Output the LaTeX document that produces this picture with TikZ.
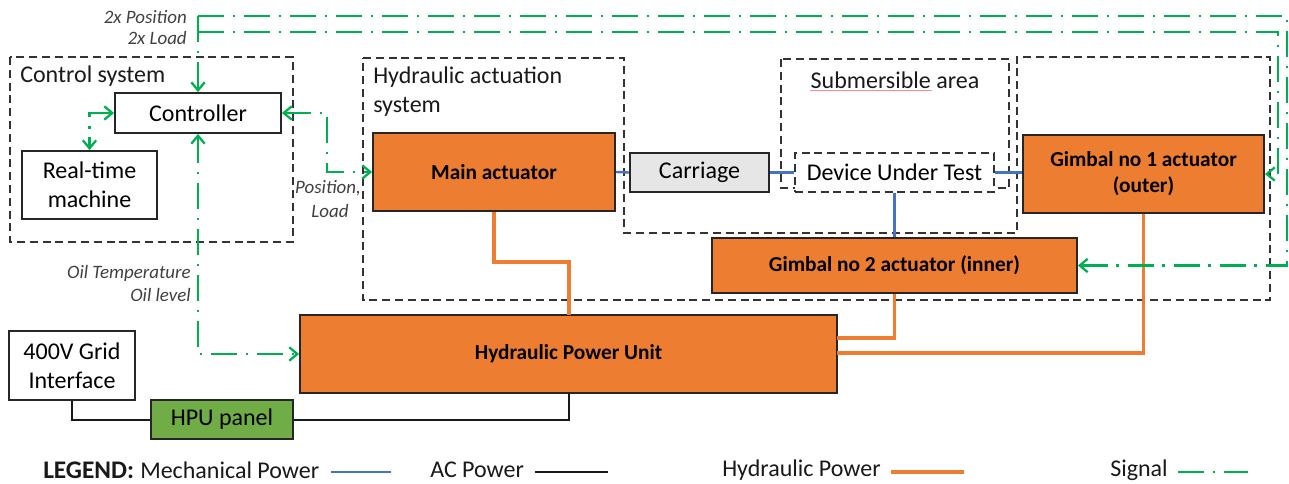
\documentclass[tikz,border=0pt]{standalone}
\usepackage{fontspec}
\setmainfont{Carlito}
\usetikzlibrary{arrows.meta}

\definecolor{hydc}{HTML}{ED7D31}
\definecolor{sigc}{HTML}{00B050}
\definecolor{mechc}{HTML}{4472C4}
\definecolor{panelc}{HTML}{70AD47}
\definecolor{carrc}{HTML}{E7E6E6}

\newcommand{\regfont}{\fontsize{18}{21.5}\selectfont}
\newcommand{\boldfont}{\fontsize{16}{19.5}\selectfont\bfseries}
\newcommand{\lblfont}{\fontsize{14.2}{17}\selectfont\itshape}
\newcommand{\legfont}{\fontsize{18}{21}\selectfont}

\tikzset{
  wh/.style args={#1/#2}{minimum width={#1*0.75pt}, minimum height={#2*0.75pt}},
  blk/.style={draw=black!85, line width=1.4pt, inner sep=0pt, align=center, font=\regfont},
  actbox/.style={blk, fill=hydc, font=\boldfont},
  grp/.style={draw=black!80, line width=1.4pt, dash pattern=on 6pt off 3.6pt},
  sigplain/.style={draw=sigc, line width=1.9pt, dash pattern=on 19.5pt off 6.5pt on 2pt off 6.5pt},
  sig/.style={sigplain, arrows={-Straight Barb[length=6pt,width=10pt,line width=1.7pt]}},
  sigboth/.style={sigplain, arrows={Straight Barb[length=6pt,width=10pt,line width=1.7pt]-Straight Barb[length=6pt,width=10pt,line width=1.7pt]}},
  hydr/.style={draw=hydc, line width=2.4pt},
  mech/.style={draw=mechc, line width=1.8pt},
  acp/.style={draw=black!90, line width=1.5pt},
  lbl/.style={font=\lblfont, text=black!75, inner sep=0pt},
  ttl/.style={font=\regfont, text=black!90, inner sep=0pt},
  legtext/.style={font=\legfont, text=black!90, inner sep=0pt, anchor=west},
}

\begin{document}
\begin{tikzpicture}[x=0.75pt,y=-0.75pt]
\useasboundingbox (0,0) rectangle (1289,483);

% group outlines
\draw[grp] (10,57) rectangle (293,242);
\draw[grp] (363,58) -- (624,58) -- (624,233) -- (1017,233) -- (1017,57)
  -- (1270,57) -- (1270,300) -- (363,300) -- cycle;
\draw[grp] (781,59) rectangle (1009,188);

\node[ttl, anchor=west] (cstitle) at (20,76) {Control system};
\node[ttl, anchor=north west, align=left] (hastitle) at (373,67) {Hydraulic actuation\\system};
\node[ttl] (subtitle) at (895,80) {Submersible area};
\draw[red!45, line width=0.6pt] (810,90) -- (932,90);

% blocks
\node[blk, fill=white, wh=166/40] (ctrl) at (198,113) {Controller};
\node[blk, fill=white, wh=135/68] (rtm) at (89.5,185) {Real-time\\machine};
\node[actbox, wh=242/78] (main) at (494,172) {Main actuator};
\node[blk, fill=carrc, wh=139/39] (carr) at (699.5,172.5) {Carriage};
\node[blk, grp, fill=white, wh=199/39] (dut) at (894.5,172.5) {Device Under Test};
\node[actbox, wh=241/78] (g1) at (1143.5,174) {Gimbal no 1 actuator\\(outer)};
\node[actbox, wh=365/55] (g2) at (894.5,265.5) {Gimbal no 2 actuator (inner)};
\node[actbox, wh=537/78] (hpu) at (568.5,354) {Hydraulic Power Unit};
\node[blk, fill=white, wh=126/69] (grid) at (72,365.5) {400V Grid\\Interface};
\node[blk, fill=panelc, wh=142/39] (panel) at (222,419.5) {HPU panel};

% mechanical power
\draw[mech] (main.east) -- (carr.west);
\draw[mech] (carr.east) -- (dut.west);
\draw[mech] (dut.east) -- (dut.east -| g1.west);
\draw[mech] (dut.south) -- (g2.north);

% hydraulic power
\coordinate (hpuA) at (569,315);
\coordinate (hpuB) at (837,338);
\coordinate (hpuC) at (837,353);
\draw[hydr] (main.south) -- (494,262) -- (569,262) -- (hpuA);
\draw[hydr] (g2.south) |- (hpuB);
\draw[hydr] (g1.south) |- (hpuC);

% AC power
\coordinate (hpuD) at (569,393);
\draw[acp] (grid.south) |- (panel.west);
\draw[acp] (panel.east) -| (hpuD);

% signals
\coordinate (sigA) at (198,16);
\coordinate (sigB) at (198,32);
\draw[sig] (sigA) -- (ctrl.north);
\draw[sig] (sigA) -- (1287,16) -- (1287,265.5) -- (g2.east);
\draw[sig] (sigB) -- (1278,32) -- (1278,174) -- (g1.east);
\draw[sigboth] (ctrl.east) -- (327,113) |- (main.west);
\draw[sigboth] (ctrl.west) -| (rtm.north);
\draw[sigboth] (ctrl.south) |- (hpu.west);

% signal labels
\node[lbl, anchor=east] (lpos2) at (187,17) {2x Position};
\node[lbl, anchor=east] (lload2) at (187,38) {2x Load};
\node[lbl] (lpos) at (328,188) {Position,};
\node[lbl] (lload) at (330,211) {Load};
\node[lbl, anchor=east] (ltemp) at (191,273) {Oil Temperature};
\node[lbl, anchor=east] (llev) at (191,295) {Oil level};

% legend
\node[legtext, font=\fontsize{19}{21}\selectfont\bfseries] (legend) at (43,470) {LEGEND:};
\node[legtext] (lmech) at (140,470) {Mechanical Power};
\node[legtext] (lac) at (430,470) {AC Power};
\node[legtext] (lhyd) at (722,470) {Hydraulic Power};
\node[legtext] (lsig) at (1110,470) {Signal};
\coordinate (m1) at (331,472); \coordinate (m2) at (391,472);
\coordinate (a1) at (535,472); \coordinate (a2) at (608,472);
\coordinate (h1) at (891,472); \coordinate (h2) at (964,472);
\coordinate (s1) at (1178,472); \coordinate (s2) at (1248,472);
\draw[mech] (m1) -- (m2);
\draw[acp, line width=1.8pt] (a1) -- (a2);
\draw[hydr] (h1) -- (h2);
\draw[sigplain] (s1) -- (s2);
\end{tikzpicture}
\end{document}
